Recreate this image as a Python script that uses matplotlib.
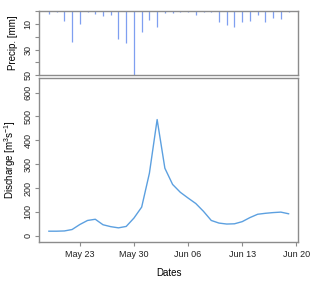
import numpy as np
import pandas as pd
import matplotlib
matplotlib.use("Agg")
import matplotlib.pyplot as plt
import matplotlib.dates as mdates

plt.rcParams['font.family'] = ['Liberation Sans', 'DejaVu Sans']
plt.rcParams['mathtext.default'] = 'regular'

dates = pd.date_range("2014-05-19", "2014-06-19", freq="D")
precip = [2, 0.8, 7.4, 24, 10, 0.8, 2.4, 3.7, 2.9, 21.8, 25, 50, 16.6, 6.8, 12.6, 1.3,
          1.5, 0.8, 0.8, 2.6, 0.8, 0.8, 8.7, 10.8, 12, 8.2, 7.6, 2.6, 8.2, 5.5, 6.3, 0.8]
discharge = [19, 19, 20, 26, 47, 64, 69, 46, 38, 33, 39, 74, 120, 262, 487, 283,
             215, 182, 158, 135, 102, 64, 53, 49, 50, 59, 76, 90, 94, 97, 99, 92]
xticks = pd.to_datetime(["2014-05-23", "2014-05-30", "2014-06-06", "2014-06-13", "2014-06-20"])

frame_col = '#8c8c8c'
fig = plt.figure(figsize=(3.2, 2.81), dpi=100)
ax1 = fig.add_axes([0.1228, 0.733, 0.809, 0.228])
ax2 = fig.add_axes([0.1228, 0.1399, 0.809, 0.5815])

x0 = dates[0] - pd.Timedelta(days=1.24)
x1 = dates[-1] + pd.Timedelta(days=1.24)

# precipitation, hanging bars
ax1.vlines(dates, 0, precip, color='#7f9ff0', lw=0.9)
ax1.set_xlim(x0, x1)
ax1.set_ylim(50, -0.3)
ax1.set_yticks([0, 10, 20, 30, 40, 50])
ax1.set_yticklabels(['', '10', '', '30', '', '50'])
ax1.set_xticks([])
ax1.set_ylabel('Precip. [mm]', fontsize=7)
ax1.yaxis.set_label_coords(-0.082, 0.5)

# discharge line
ax2.plot(dates, discharge, color='#5ca0e0', lw=1)
ax2.set_xlim(x0, x1)
ax2.set_ylim(-25, 660)
ax2.set_yticks(range(0, 601, 100))
ax2.set_xticks(xticks)
ax2.xaxis.set_major_formatter(mdates.DateFormatter('%b %d'))
ax2.set_ylabel('Discharge [m$^3$s$^{-1}$]', fontsize=7)
ax2.yaxis.set_label_coords(-0.082, 0.5)
ax2.set_xlabel('Dates', fontsize=7)
ax2.xaxis.set_label_coords(0.5, -0.162)

for ax in (ax1, ax2):
    for s in ax.spines.values():
        s.set_color(frame_col)
        s.set_linewidth(1.0)
    ax.tick_params(length=3, width=0.8, color=frame_col, labelsize=6.5, pad=3,
                   labelcolor='#222222')
    ax.tick_params(axis='y', labelrotation=90, pad=2)
    for lab in ax.get_yticklabels():
        lab.set_va('center')

fig.savefig('out.png', dpi=100)
